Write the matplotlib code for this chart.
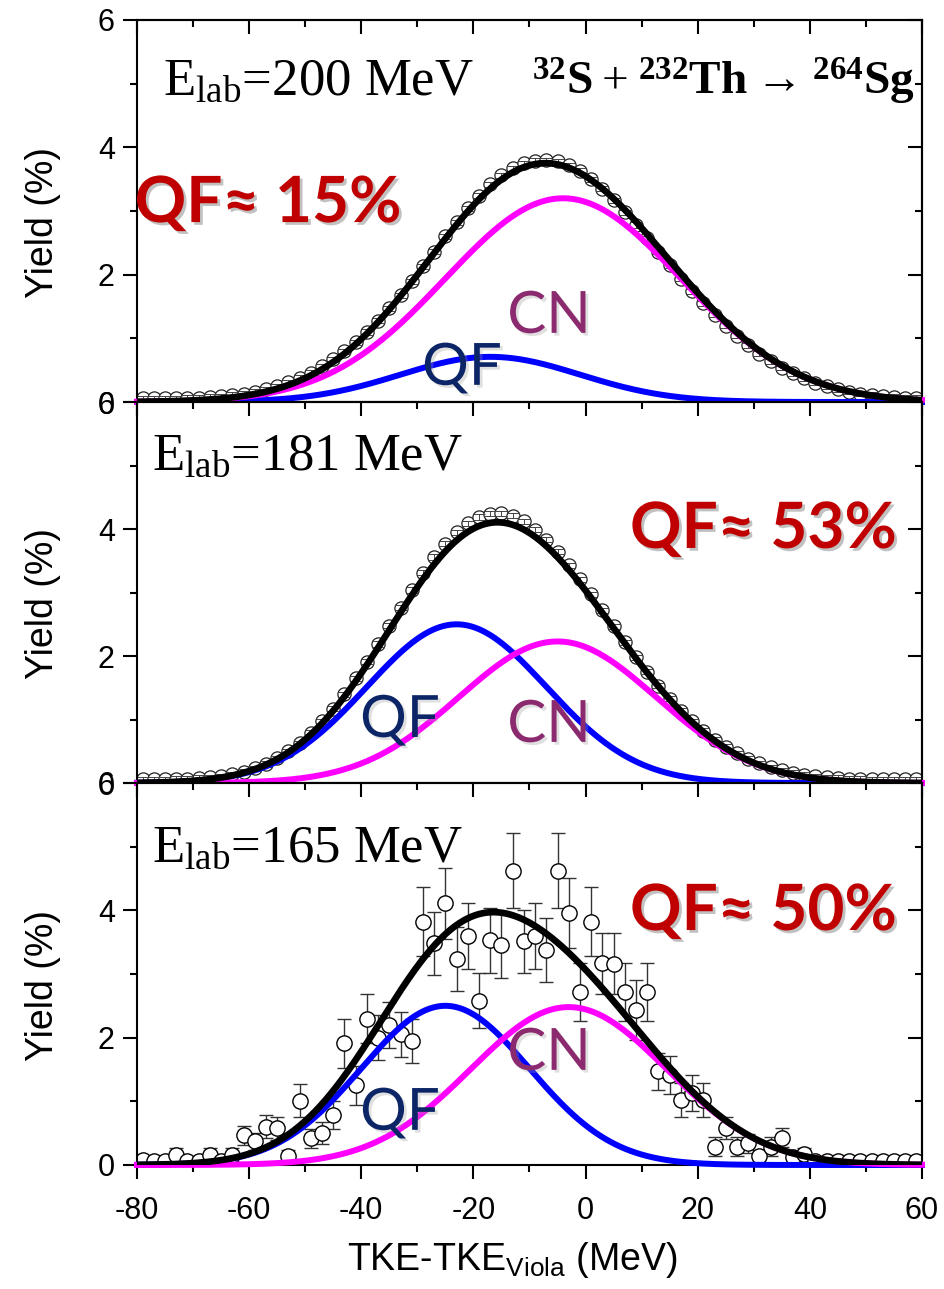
import numpy as np
import matplotlib.pyplot as plt
import matplotlib.patheffects as pe
from matplotlib.ticker import MultipleLocator

plt.rcParams['font.family'] = ['Liberation Sans', 'DejaVu Sans']
plt.rcParams['mathtext.fontset'] = 'custom'
plt.rcParams['mathtext.rm'] = 'Liberation Serif'
plt.rcParams['mathtext.bf'] = 'Liberation Serif:bold'
plt.rcParams['mathtext.sf'] = 'Liberation Sans'
plt.rcParams['axes.unicode_minus'] = False

# 2 MeV bin centres, TKE - TKE_Viola (MeV)
tke = np.arange(-79, 60, 2)

yield_200 = [0.06, 0.06, 0.06, 0.06, 0.07, 0.07, 0.08, 0.09, 0.11, 0.13,
             0.16, 0.20, 0.25, 0.31, 0.38, 0.46, 0.56, 0.67, 0.80, 0.94,
             1.10, 1.28, 1.47, 1.68, 1.90, 2.13, 2.36, 2.60, 2.82, 3.04,
             3.24, 3.42, 3.56, 3.67, 3.75, 3.79, 3.80, 3.78, 3.72, 3.63,
             3.50, 3.35, 3.17, 2.98, 2.78, 2.57, 2.36, 2.15, 1.94, 1.74,
             1.55, 1.37, 1.20, 1.04, 0.89, 0.76, 0.64, 0.54, 0.45, 0.37,
             0.30, 0.25, 0.20, 0.16, 0.13, 0.11, 0.09, 0.08, 0.07, 0.07]
yield_181 = [0.06, 0.06, 0.06, 0.07, 0.07, 0.08, 0.09, 0.11, 0.14, 0.18,
             0.23, 0.30, 0.39, 0.50, 0.63, 0.79, 0.97, 1.17, 1.40, 1.65,
             1.91, 2.19, 2.48, 2.76, 3.04, 3.31, 3.56, 3.77, 3.95, 4.09,
             4.19, 4.24, 4.25, 4.21, 4.12, 3.99, 3.83, 3.64, 3.43, 3.21,
             2.97, 2.72, 2.47, 2.22, 1.98, 1.75, 1.53, 1.33, 1.14, 0.97,
             0.82, 0.68, 0.57, 0.47, 0.38, 0.31, 0.25, 0.20, 0.16, 0.13,
             0.11, 0.09, 0.08, 0.07, 0.07, 0.06, 0.06, 0.06, 0.06, 0.06]
yield_165 = [0.08, 0.06, 0.06, 0.16, 0.06, 0.06, 0.16, 0.06, 0.16, 0.47,
             0.37, 0.60, 0.58, 0.14, 1.01, 0.42, 0.50, 0.79, 1.91, 1.25,
             2.30, 2.00, 2.20, 2.05, 1.95, 3.82, 3.48, 4.11, 3.23, 3.60,
             2.58, 3.53, 3.46, 4.62, 3.51, 3.60, 3.38, 4.62, 3.95, 2.72,
             3.82, 3.17, 3.16, 2.72, 2.43, 2.72, 1.47, 1.41, 1.02, 1.13,
             1.02, 0.29, 0.58, 0.29, 0.34, 0.14, 0.29, 0.43, 0.12, 0.17,
             0.07, 0.07, 0.07, 0.07, 0.07, 0.07, 0.07, 0.07, 0.07, 0.07]
err_165 = [0.06, 0.05, 0.05, 0.10, 0.05, 0.05, 0.10, 0.05, 0.10, 0.15,
           0.14, 0.18, 0.18, 0.09, 0.26, 0.15, 0.17, 0.22, 0.38, 0.30,
           0.38, 0.35, 0.36, 0.35, 0.35, 0.54, 0.50, 0.56, 0.50, 0.52,
           0.43, 0.51, 0.52, 0.59, 0.50, 0.52, 0.50, 0.59, 0.55, 0.46,
           0.54, 0.48, 0.48, 0.46, 0.47, 0.46, 0.29, 0.30, 0.27, 0.28,
           0.27, 0.15, 0.17, 0.15, 0.15, 0.10, 0.15, 0.15, 0.09, 0.10,
           0.05, 0.05, 0.05, 0.05, 0.05, 0.05, 0.05, 0.05, 0.05, 0.05]

# Gaussian fit components: amplitude (%), centroid (MeV), sigma (MeV)
qf_200 = [0.71, -17.0, 16.0]
cn_200 = [3.20, -4.0, 21.0]
qf_181 = [2.50, -23.0, 16.0]
cn_181 = [2.23, -5.0, 17.6]
qf_165 = [2.50, -25.0, 15.0]
cn_165 = [2.48, -3.0, 17.5]

e_lab = ['200', '181', '165']
qf_share = ['15', '53', '50']


def gauss(x, p):
    return p[0] * np.exp(-(x - p[1]) ** 2 / (2 * p[2] ** 2))


fig = plt.figure(figsize=(9.44, 12.89), dpi=100)
ax_top = fig.add_axes([0.1451, 0.6881, 0.8316, 0.2964])
ax_mid = fig.add_axes([0.1451, 0.3925, 0.8316, 0.2956])
ax_bot = fig.add_axes([0.1451, 0.0962, 0.8316, 0.2964])
axes = [ax_top, ax_mid, ax_bot]

panels = [
    (yield_200, None, qf_200, cn_200),
    (yield_181, None, qf_181, cn_181),
    (yield_165, err_165, qf_165, cn_165),
]

xs = np.linspace(-80, 60, 600)
shadow = [pe.withSimplePatchShadow(offset=(2, -2), shadow_rgbFace='#777777', alpha=0.45)]
soft = [pe.withSimplePatchShadow(offset=(2, -2), shadow_rgbFace='#999999', alpha=0.3)]

for i, (ax, (ydat, yerr, qf, cn)) in enumerate(zip(axes, panels)):
    if yerr is None:
        ax.plot(tke, ydat, 'o', ms=9.5, mfc='white', mec='#222222', mew=0.9, zorder=2)
        ax.errorbar(tke, ydat, yerr=0.04, fmt='none', ecolor='#444444',
                    elinewidth=0.7, capsize=4, capthick=0.7, zorder=2.5)
    else:
        ax.errorbar(tke, ydat, yerr=yerr, fmt='o', ms=11, mfc='white', mec='black',
                    mew=1.0, ecolor='#333333', elinewidth=1.0, capsize=4.7,
                    capthick=1.0, zorder=2)
    ax.plot(xs, gauss(xs, qf), color='#0000ff', lw=4.3, zorder=3, clip_on=False)
    ax.plot(xs, gauss(xs, cn), color='#ff00ff', lw=4.3, zorder=4, clip_on=False)
    ax.plot(xs, gauss(xs, qf) + gauss(xs, cn), color='black', lw=4.8, zorder=5)

    ax.set_xlim(-80, 60)
    ax.set_ylim(0, 6)
    ax.xaxis.set_major_locator(MultipleLocator(20))
    ax.xaxis.set_minor_locator(MultipleLocator(10))
    ax.yaxis.set_major_locator(MultipleLocator(2))
    ax.yaxis.set_minor_locator(MultipleLocator(1))
    ax.tick_params(axis='both', which='major', length=10, width=1.5, labelsize=22)
    ax.tick_params(axis='both', which='minor', length=5, width=1.5)
    ax.tick_params(axis='x', pad=12)
    ax.tick_params(axis='y', pad=6)
    if i < 2:
        ax.tick_params(axis='x', labelbottom=False)
    for s in ax.spines.values():
        s.set_linewidth(1.5)

    # mirrored ticks pointing inwards on top and right
    tw = ax.secondary_xaxis('top')
    tw.xaxis.set_major_locator(MultipleLocator(20))
    tw.xaxis.set_minor_locator(MultipleLocator(10))
    tw.tick_params(which='both', direction='in', labeltop=False, width=1.5)
    tw.tick_params(which='major', length=10)
    tw.tick_params(which='minor', length=5)
    tw.spines['top'].set_linewidth(1.5)
    rw = ax.secondary_yaxis('right')
    rw.yaxis.set_major_locator(MultipleLocator(2))
    rw.yaxis.set_minor_locator(MultipleLocator(1))
    rw.tick_params(which='both', direction='in', labelright=False, width=1.5)
    rw.tick_params(which='major', length=10)
    rw.tick_params(which='minor', length=5)
    rw.spines['right'].set_linewidth(1.5)

    ax.set_ylabel('Yield (%)', fontsize=27)
    ax.yaxis.set_label_coords(-0.097, 0.47)

# energy labels
elab_pos = [(0.033, 0.804), (0.019, 0.822), (0.019, 0.793)]
for ax, e, (px, py) in zip(axes, e_lab, elab_pos):
    ax.text(px, py, r'$\mathregular{E_{lab}}$=' + e + ' MeV', transform=ax.transAxes,
            fontsize=38, family='Liberation Serif', ha='left', va='baseline')

ax_top.text(0.991, 0.804,
            r'$\mathbf{{}^{32}S} + \mathbf{{}^{232}Th} \rightarrow \mathbf{{}^{264}Sg}$',
            transform=ax_top.transAxes, fontsize=34, family='Liberation Serif',
            ha='right', va='baseline')

# QF fraction labels
share_pos = [(-0.003, 0.471), (0.628, 0.617), (0.628, 0.615)]
for ax, q, (px, py) in zip(axes, qf_share, share_pos):
    ax.text(px, py, 'QF\u2248 ' + q + '%', transform=ax.transAxes, fontsize=46,
            family=['Lato', 'DejaVu Sans'], fontweight='bold', color='#c00000',
            ha='left', va='baseline', path_effects=shadow, zorder=6)

# component labels
cn_pos = [(0.525, 0.181), (0.525, 0.108), (0.525, 0.249)]
qf_pos = [(0.414, 0.045), (0.335, 0.121), (0.335, 0.092)]
for ax, (cx, cy), (qx, qy) in zip(axes, cn_pos, qf_pos):
    ax.text(cx, cy, 'CN', transform=ax.transAxes, fontsize=42, family='Lato',
            color='#8b2a6e', ha='center', va='baseline', path_effects=soft, zorder=6)
    ax.text(qx, qy, 'QF', transform=ax.transAxes, fontsize=42, family='Lato',
            color='#0b2566', ha='center', va='baseline', path_effects=soft, zorder=6)

ax_bot.set_xlabel(r'TKE-TKE$_{\mathsf{Viola}}$ (MeV)', fontsize=27)
ax_bot.xaxis.set_label_coords(0.478, -0.196)

fig.savefig('out.png', dpi=100)
